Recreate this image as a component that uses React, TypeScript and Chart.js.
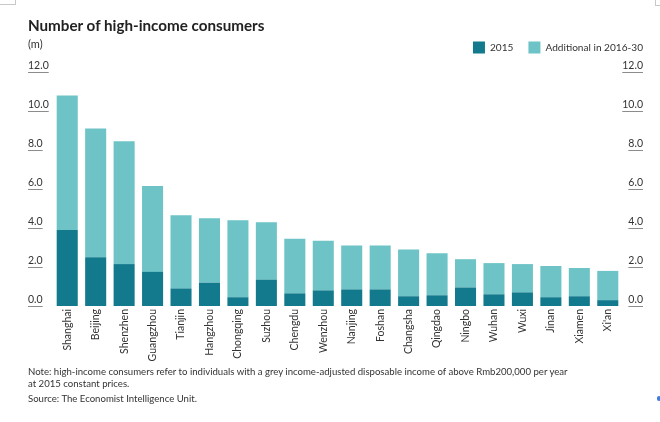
import React, { useEffect, useRef } from "react";
import { Chart, registerables } from "chart.js";

Chart.register(...registerables);

const cities = [
  "Shanghai", "Beijing", "Shenzhen", "Guangzhou", "Tianjin", "Hangzhou", "Chongqing",
  "Suzhou", "Chengdu", "Wenzhou", "Nanjing", "Foshan", "Changsha", "Qingdao", "Ningbo",
  "Wuhan", "Wuxi", "Jinan", "Xiamen", "Xi'an",
];
const base2015 = [3.9, 2.5, 2.15, 1.75, 0.9, 1.2, 0.45, 1.35, 0.65, 0.8, 0.85, 0.85, 0.5, 0.55, 0.95, 0.6, 0.7, 0.45, 0.5, 0.3];
const additional = [6.9, 6.6, 6.3, 4.4, 3.75, 3.3, 3.95, 2.95, 2.8, 2.55, 2.25, 2.25, 2.4, 2.15, 1.45, 1.6, 1.45, 1.6, 1.45, 1.5];
const yMin = 0;
const yMax = 12;
const yStep = 2;

const FONT = "Lato, 'Open Sans', sans-serif";
const TEXT = "#333333";
const DARK = "#127a8c";
const LIGHT = "#6dc3c6";
const TICK_SIZE = 10.5;
const LEG_PAD = 15;

const underlinePlugin = {
  id: "tickUnderline",
  afterDraw(chart: any) {
    const ctx = chart.ctx;
    ["y", "y2"].forEach((id) => {
      const s = chart.scales[id];
      if (!s) return;
      ctx.save();
      ctx.font = `${TICK_SIZE}px ${FONT}`;
      ctx.strokeStyle = "#8c8c8c";
      ctx.lineWidth = 1;
      s.ticks.forEach((t: any) => {
        const label = String(t.label);
        const w = ctx.measureText(label).width;
        const y = Math.round(s.getPixelForValue(t.value)) + 0.5;
        const x0 = id === "y" ? s.left : s.right - w;
        ctx.beginPath();
        ctx.moveTo(x0, y);
        ctx.lineTo(x0 + w, y);
        ctx.stroke();
      });
      ctx.restore();
    });
  },
};

const legendShift = {
  id: "legendShift",
  afterLayout(chart: any) {
    const l = chart.legend;
    if (!l) return;
    l.left += LEG_PAD;
    l.right += LEG_PAD;
    l.top -= 8.5;
    l.bottom -= 8.5;
  },
};

export default function App() {
  const ref = useRef<HTMLCanvasElement | null>(null);

  useEffect(() => {
    if (!ref.current) return;
    const chart = new Chart(ref.current, {
      type: "bar",
      data: {
        labels: cities,
        datasets: [
          { label: "2015", data: base2015, backgroundColor: DARK, yAxisID: "y" },
          { label: "Additional in 2016-30", data: additional, backgroundColor: LIGHT, yAxisID: "y" },
        ],
      },
      options: {
        animation: false,
        responsive: false,
        devicePixelRatio: 1,
        layout: { padding: { left: 28, right: 17, top: 35, bottom: 54 } },
        datasets: { bar: { categoryPercentage: 1, barPercentage: 0.74 } },
        plugins: {
          legend: {
            position: "top",
            align: "end",
            labels: {
              boxWidth: 12,
              boxHeight: 12,
              padding: LEG_PAD,
              color: TEXT,
              font: { family: FONT, size: 10.1 },
            },
          },
          tooltip: { enabled: false },
          title: { display: false },
        },
        scales: {
          x: {
            stacked: true,
            grid: { display: false, drawTicks: false, tickLength: 0 },
            border: { display: false },
            ticks: {
              autoSkip: false,
              maxRotation: 90,
              minRotation: 90,
              padding: 3,
              color: TEXT,
              font: { family: FONT, size: TICK_SIZE },
            },
            afterFit(s: any) {
              s.height = 62;
            },
          },
          y: {
            stacked: true,
            position: "left",
            min: yMin,
            max: yMax,
            grid: { display: false },
            border: { display: false },
            ticks: {
              stepSize: yStep,
              crossAlign: "far",
              labelOffset: -6,
              color: TEXT,
              font: { family: FONT, size: TICK_SIZE },
              callback: (v: any) => Number(v).toFixed(1),
            },
            afterFit(s: any) {
              s.width = 25;
            },
          },
          y2: {
            position: "right",
            min: yMin,
            max: yMax,
            grid: { display: false },
            border: { display: false },
            ticks: {
              stepSize: yStep,
              crossAlign: "far",
              labelOffset: -6,
              color: TEXT,
              font: { family: FONT, size: TICK_SIZE },
              callback: (v: any) => Number(v).toFixed(1),
            },
            afterFit(s: any) {
              s.width = 21;
            },
          },
        },
      },
      plugins: [underlinePlugin, legendShift],
    } as any);
    return () => chart.destroy();
  }, []);

  const abs = (o: any) => ({ position: "absolute" as const, margin: 0, ...o });

  return (
    <div style={{ position: "absolute", left: 0, top: 0, width: 660, height: 422, background: "#fff", fontFamily: FONT, color: TEXT }}>
      <canvas ref={ref} width={660} height={422} style={{ position: "absolute", left: 0, top: 0, width: 660, height: 422 }} />
      <div style={abs({ left: 28, top: 17.5, fontSize: 15.2, lineHeight: "15.2px", fontWeight: 700, color: "#222", whiteSpace: "nowrap" })}>
        Number of high-income consumers
      </div>
      <div style={abs({ left: 28, top: 37.5, fontSize: 11, lineHeight: "11px", whiteSpace: "nowrap" })}>(m)</div>
      <div style={abs({ left: 28, top: 366.5, fontSize: 9.6, lineHeight: "9.6px", whiteSpace: "nowrap" })}>
        Note: high-income consumers refer to individuals with a grey income-adjusted disposable income of above Rmb200,000 per year
      </div>
      <div style={abs({ left: 28, top: 379, fontSize: 9.6, lineHeight: "9.6px", whiteSpace: "nowrap" })}>
        at 2015 constant prices.
      </div>
      <div style={abs({ left: 28, top: 394, fontSize: 9.6, lineHeight: "9.6px", whiteSpace: "nowrap" })}>
        Source: The Economist Intelligence Unit.
      </div>
      <div style={abs({ left: 0, top: 4, width: 15, height: 0, borderTop: "1px solid #c8c8c8" })} />
      <div style={abs({ left: 15, top: 0, width: 0, height: 5, borderLeft: "1px solid #c8c8c8" })} />
      <div style={abs({ left: 655, top: 0, width: 0, height: 5, borderLeft: "1px solid #c8c8c8" })} />
      <div style={abs({ left: 655, top: 5, width: 5, height: 0, borderTop: "1px solid #c8c8c8" })} />
      <div style={abs({ left: 657, top: 396, width: 4, height: 5, borderRadius: 2, background: "#3b7de0" })} />
    </div>
  );
}
